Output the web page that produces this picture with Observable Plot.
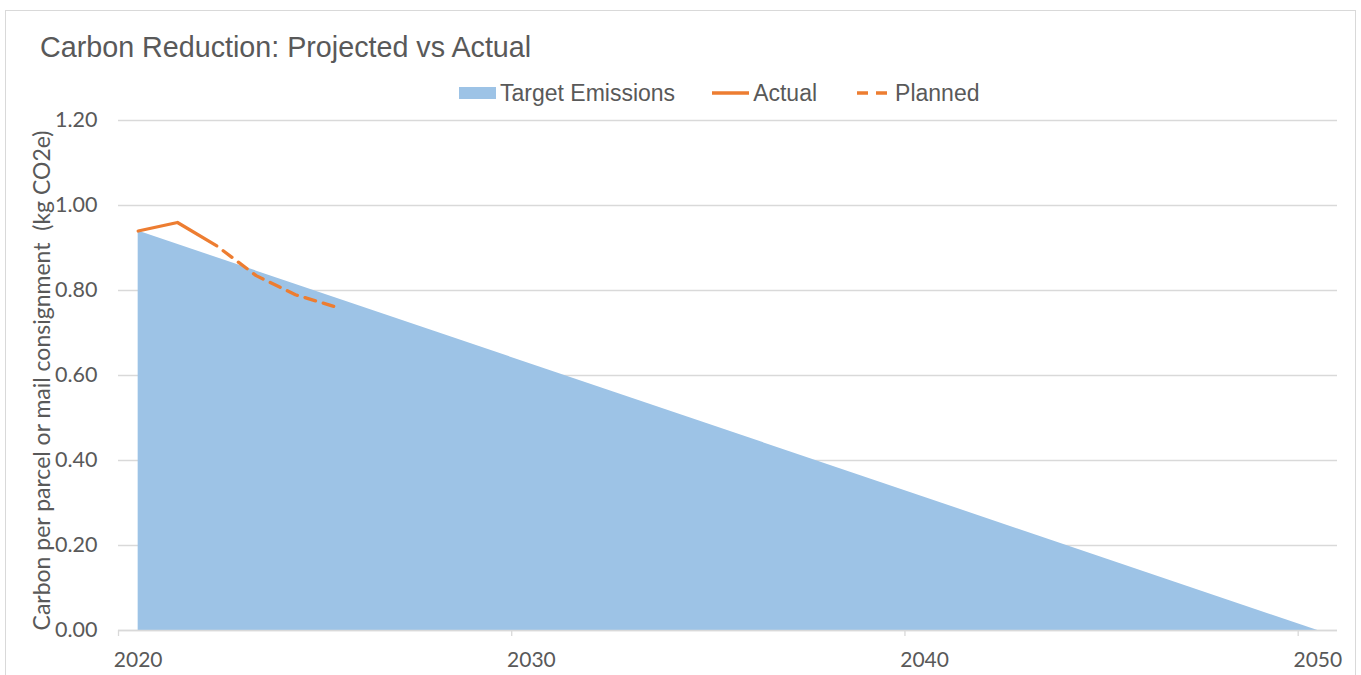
<!DOCTYPE html>
<html><head><meta charset="utf-8">
<script src="https://cdn.jsdelivr.net/npm/d3@7"></script>
<script src="https://cdn.jsdelivr.net/npm/@observablehq/plot@0.6"></script>
<style>
body{margin:0;background:#fff;}
#wrap{position:relative;width:1361px;height:675px;overflow:hidden;font-family:"Liberation Sans",Arial,sans-serif;color:#595959;}
#frame{position:absolute;left:5px;top:10px;width:1351px;height:720px;border:1px solid #d9d9d9;box-sizing:border-box;}
#head{position:relative;height:100px;}
#title{position:absolute;left:40px;top:33px;font-size:28.7px;line-height:1;white-space:nowrap;}
#legend{position:absolute;left:459px;top:82px;height:22px;display:flex;align-items:center;font-size:23px;line-height:1;white-space:nowrap;}
.item{display:flex;align-items:center;margin-right:37px;}
.item:last-child{margin-right:0;}
.item svg{margin-right:4px;display:block;}
#chart{position:relative;}
</style></head>
<body>
<div id="wrap">
  <div id="frame"></div>
  <div id="head">
    <div id="title">Carbon Reduction: Projected vs Actual</div>
    <div id="legend"></div>
  </div>
  <div id="chart"></div>
</div>
<script>
// Data
const targetYears = [2020, 2050];
const targetValues = [0.94, 0.00];
const actualYears = [2020, 2021, 2022];
const actualValues = [0.94, 0.96, 0.905];
const plannedYears = [2022, 2023, 2024, 2025];
const plannedValues = [0.905, 0.835, 0.79, 0.762];
const yTicks = [0, 0.2, 0.4, 0.6, 0.8, 1.0, 1.2];
const xTicks = [2020, 2030, 2040, 2050];
const seriesNames = ["Target Emissions", "Actual", "Planned"];

const BLUE = "#9dc3e6", ORANGE = "#ed7d31", TEXT = "#595959", GRID = "#d9d9d9";

const target = targetYears.map((y, i) => ({year: y, value: targetValues[i]}));
const actual = actualYears.map((y, i) => ({year: y, value: actualValues[i]}));
const planned = plannedYears.map((y, i) => ({year: y, value: plannedValues[i]}));

// Legend
const legend = document.getElementById("legend");
const swatches = [
  `<svg width="37" height="12"><rect x="0" y="0" width="37" height="12" fill="${BLUE}"/></svg>`,
  `<svg width="37" height="12"><line x1="0" x2="37" y1="6" y2="6" stroke="${ORANGE}" stroke-width="3.3"/></svg>`,
  `<svg width="37" height="12"><line x1="0" x2="37" y1="6" y2="6" stroke="${ORANGE}" stroke-width="3.3" stroke-dasharray="11,8" stroke-dashoffset="-3"/></svg>`
];
seriesNames.forEach((n, i) => {
  const d = document.createElement("div");
  d.className = "item";
  d.innerHTML = swatches[i] + `<span>${n}</span>`;
  legend.appendChild(d);
});

const chart = Plot.plot({
  width: 1361,
  height: 575,
  marginLeft: 118,
  marginRight: 24,
  marginTop: 20,
  marginBottom: 45,
  x: {domain: [2019.5, 2050.5]},
  y: {domain: [0, 1.2]},
  style: {fontFamily: "Lato, 'Open Sans', sans-serif", fontSize: "21px", color: TEXT, background: "transparent", overflow: "visible"},
  marks: [
    Plot.gridY(yTicks, {stroke: GRID, strokeOpacity: 1, strokeWidth: 1.3}),
    Plot.areaY(target, {x: "year", y: "value", fill: BLUE, fillOpacity: 1}),
    Plot.ruleY([0], {stroke: GRID, strokeWidth: 1.3}),
    Plot.axisX(xTicks.map(t => t - 0.5), {tickSize: 6, tickFormat: () => "", stroke: GRID, strokeWidth: 1.3, label: null}),
    Plot.axisX(xTicks, {tickSize: 0, tickPadding: 22, tickFormat: d => String(d), fill: TEXT, fontSize: 21, label: null}),
    Plot.axisY(yTicks, {tickSize: 0, tickPadding: 21, tickFormat: d => d.toFixed(2), fill: TEXT, fontSize: 21.5, label: null}),
    Plot.text(["Carbon per parcel or mail consignment  (kg CO2e)"], {frameAnchor: "left", dx: -76, dy: 5, rotate: -90, textAnchor: "middle", fontSize: 23, fill: TEXT}),
    Plot.line(actual, {x: "year", y: "value", stroke: ORANGE, strokeWidth: 3.3}),
    Plot.line(planned, {x: "year", y: "value", stroke: ORANGE, strokeWidth: 3.3, strokeDasharray: "11,8", strokeDashoffset: 11})
  ]
});
document.getElementById("chart").appendChild(chart);
</script>
</body></html>
